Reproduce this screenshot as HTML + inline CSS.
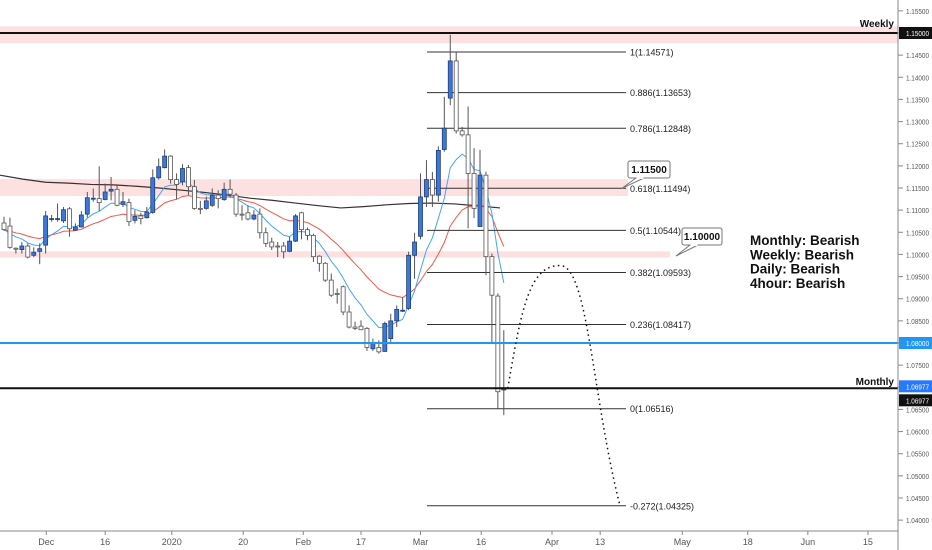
<!DOCTYPE html>
<html><head><meta charset="utf-8">
<style>
html,body{margin:0;padding:0;background:#fff;}
svg{display:block;font-family:"Liberation Sans",sans-serif;}
</style></head>
<body>
<svg id="chart" width="932" height="550" viewBox="0 0 932 550">
  <g id="bands"></g>
  <g id="ma"></g>
  <g id="fib"></g>
  <g id="candles"></g>
  <g id="levels"></g>
  <g id="anno"></g>
  <g id="xaxis"></g>
  <g id="yaxis"></g>
</svg>
<script>
// ---- data ----
const opens  = [1.1071,1.1064,1.1014,1.1011,1.1019,1.0998,1.1007,1.1021,1.1080,1.1080,1.1076,1.1103,1.1055,1.1062,1.1091,1.1126,1.1126,1.1124,1.1143,1.1147,1.1113,1.1117,1.1077,1.1087,1.1083,1.1095,1.1173,1.1196,1.1222,1.1169,1.1164,1.1196,1.1153,1.1104,1.1104,1.1111,1.1134,1.1124,1.1147,1.1134,1.1091,1.1094,1.1080,1.1091,1.1049,1.1028,1.1019,1.1019,1.1007,1.1030,1.1094,1.1056,1.1043,1.0996,1.0980,1.0942,1.0912,1.0927,1.0870,1.0836,1.0838,1.0833,1.0787,1.0790,1.0781,1.0810,1.0850,1.0873,1.0878,1.0998,1.1041,1.1130,1.1169,1.1134,1.1237,1.1353,1.1437,1.1279,1.1270,1.1183,1.1063,1.1179,1.0995,1.0906,1.0694];
const highs  = [1.1085,1.1083,1.1016,1.1028,1.1025,1.1016,1.1025,1.1098,1.1089,1.1115,1.1107,1.1107,1.1070,1.1098,1.1141,1.1149,1.1199,1.1160,1.1175,1.1156,1.1141,1.1126,1.1100,1.1094,1.1107,1.1192,1.1217,1.1237,1.1224,1.1183,1.1204,1.1202,1.1168,1.1121,1.1131,1.1149,1.1145,1.1162,1.1169,1.1139,1.1111,1.1111,1.1100,1.1104,1.1061,1.1038,1.1028,1.1028,1.1040,1.1091,1.1096,1.1061,1.1047,1.0998,1.0983,1.0957,1.0923,1.0930,1.0885,1.0848,1.0851,1.0836,1.0810,1.0806,1.0848,1.0866,1.0885,1.0904,1.1006,1.1049,1.1183,1.1213,1.1186,1.1244,1.1356,1.1496,1.1458,1.1288,1.1334,1.1240,1.1236,1.1187,1.1002,1.0912,1.0829];
const lows   = [1.1053,1.1013,1.1002,1.1002,1.0991,1.0994,1.0978,1.1002,1.1074,1.1074,1.1071,1.1040,1.1053,1.1061,1.1083,1.1119,1.1098,1.1122,1.1122,1.1109,1.1107,1.1064,1.1070,1.1068,1.1081,1.1092,1.1169,1.1194,1.1160,1.1124,1.1156,1.1134,1.1101,1.1091,1.1101,1.1107,1.1104,1.1121,1.1128,1.1085,1.1077,1.1077,1.1077,1.1036,1.1017,1.1010,1.0994,1.0991,1.1005,1.1028,1.1034,1.1032,1.0983,1.0961,1.0938,1.0904,1.0889,1.0863,1.0833,1.0829,1.0829,1.0782,1.0782,1.0776,1.0780,1.0802,1.0836,1.0870,1.0874,1.0945,1.1034,1.1107,1.1107,1.1119,1.1232,1.1337,1.1273,1.1266,1.1059,1.1082,1.1063,1.0953,1.0799,1.0652,1.0637];
const closes = [1.1056,1.1016,1.1013,1.1019,1.0994,1.1005,1.1013,1.1087,1.1081,1.1081,1.1101,1.1058,1.1062,1.1089,1.1128,1.1127,1.1117,1.1141,1.1147,1.1111,1.1119,1.1074,1.1086,1.1081,1.1096,1.1173,1.1198,1.1222,1.1169,1.1158,1.1194,1.1153,1.1104,1.1103,1.1121,1.1134,1.1126,1.1147,1.1136,1.1091,1.1090,1.1080,1.1089,1.1049,1.1025,1.1017,1.1018,1.1006,1.1030,1.1087,1.1056,1.1043,1.0995,1.0980,1.0942,1.0908,1.0911,1.0870,1.0836,1.0833,1.0830,1.0790,1.0799,1.0780,1.0844,1.0850,1.0876,1.0874,1.0998,1.1028,1.1130,1.1169,1.1134,1.1235,1.1285,1.1437,1.1279,1.1270,1.1183,1.1104,1.1179,1.0995,1.0908,1.0690,1.0699];
const ma200 = [1.1179,1.1170,1.1163,1.1161,1.1158,1.1157,1.1154,1.1150,1.1145,1.1140,1.1134,1.1127,1.1122,1.1116,1.1110,1.1105,1.1108,1.1112,1.1115,1.1116,1.1114,1.1110,1.1105];
const fibRatios = ["1","0.886","0.786","0.618","0.5","0.382","0.236","0","-0.272"];
const fibPrices = [1.14571,1.13653,1.12848,1.11494,1.10544,1.09593,1.08417,1.06516,1.04325];
const yTicks = [1.155,1.15,1.145,1.14,1.135,1.13,1.125,1.12,1.115,1.11,1.105,1.10,1.095,1.09,1.085,1.08,1.075,1.07,1.065,1.06,1.055,1.05,1.045,1.04];
const xLabels = ["Dec","16","2020","20","Feb","17","Mar","16","Apr","13","May","18","Jun","15"];
const xLabelCandle = [7.1,17.0,28.2,40.2,50.3,60.0,70.0,80.2,92.1,100.2,114.0,125.0,135.1,145.2];
const projPrices = [1.06977,1.0975,1.04325];

// ---- scales ----
const NS="http://www.w3.org/2000/svg";
const y = p => 33 + (1.15 - p) * 4428.6;
const x = i => 4 + i * 5.95;
function mk(tag, attrs, parent){const e=document.createElementNS(NS,tag);for(const k in attrs)e.setAttribute(k,attrs[k]);parent.appendChild(e);return e;}
const g = id => document.getElementById(id);

// zones
let z;
z=mk('rect',{x:0,y:y(1.1515),width:898,height:y(1.1477)-y(1.1515),fill:'#fde0e0'},g('bands'));


z=mk('rect',{x:0,y:y(1.1170),width:628,height:y(1.1132)-y(1.1170),fill:'#fde0e0'},g('bands'));


z=mk('rect',{x:0,y:y(1.1007),width:670,height:y(1.0993)-y(1.1007),fill:'#fde0e0'},g('bands'));



// 200 MA
let pts=ma200.map((v,k)=>[k*(500/(ma200.length-1)),y(v)]);
let l=mk('polyline',{points:pts.map(p=>p.join(',')).join(' '),fill:'none',stroke:'#3b2f2f',"stroke-width":1.2},g('ma'));


// EMAs
function ema(n){const k=2/(n+1);let out=[],e=closes[0];closes.forEach(c=>{e=c*k+e*(1-k);out.push(e);});return out;}
const e8=ema(8), e21=ema(21);
l=mk('polyline',{points:e21.map((v,i)=>x(i)+','+y(v)).join(' '),fill:'none',stroke:'#f0584c',"stroke-width":1},g('ma'));


l=mk('polyline',{points:e8.map((v,i)=>x(i)+','+y(v)).join(' '),fill:'none',stroke:'#42a5f5',"stroke-width":1},g('ma'));



// fib
fibPrices.forEach((p,i)=>{
  const ln=mk('line',{x1:427,x2:626,y1:y(p),y2:y(p),stroke:'#333',"stroke-width":1},g('fib'));
  
  
  const t=mk('text',{x:630,y:y(p)+3.5,"font-size":9,fill:'#222'},g('fib'));
  t.textContent=fibRatios[i]+'('+p.toFixed(5)+')';
  
  
});

// candles
opens.forEach((o,i)=>{
  const c=closes[i],h=highs[i],lo=lows[i],cx=x(i),bull=c>=o;
  const w=mk('line',{x1:cx,x2:cx,y1:y(h),y2:y(lo),stroke:'#555',"stroke-width":1},g('candles'));
  
  
  const top=y(Math.max(o,c)),bh=Math.max(1,y(Math.min(o,c))-top);
  const b=mk('rect',{x:cx-2,y:top,width:4,height:bh,fill:bull?'#3c78d8':'#fff',stroke:bull?'#1f3f7a':'#555',"stroke-width":0.8},g('candles'));
  
  
});

// key levels
function hline(p,col,w,name){const e=mk('line',{x1:0,x2:898,y1:y(p),y2:y(p),stroke:col,"stroke-width":w},g('levels'));}
hline(1.15,'#111',2,'weekly-level-line');
hline(1.08,'#2196f3',2,'level-1-08-line');
hline(1.06977,'#111',2,'monthly-level-line');
function lbl(txt,xx,yy,name){const t=mk('text',{x:xx,y:yy,"font-size":10,"font-weight":"bold",fill:'#111',"text-anchor":"end"},g('levels'));t.textContent=txt;}
lbl('Weekly',894,27,'weekly-label');
lbl('Monthly',894,385,'monthly-label');

// projection dotted path
const x0=x(opens.length-1)+4;
const pk=560, pEnd=620, yPk=y(projPrices[1]);
const pp=mk('path',{d:`M${x0},${y(projPrices[0])} C${x0+14},${yPk+40} ${pk-30},${yPk} ${pk},${yPk} C${pk+28},${yPk} ${pEnd-28},${y(projPrices[2])-110} ${pEnd},${y(projPrices[2])}`,fill:'none',stroke:'#111',"stroke-width":1.5,"stroke-dasharray":"1.5,3.5"},g('anno'));



// callouts
function callout(bx,by,bw,txt,tx,ty,name){
  const grp=mk('g',{},g('anno'));
  
  
  mk('polygon',{points:`${bx+8},${by+17} ${bx+16},${by+17} ${tx},${ty}`,fill:'#fff',stroke:'#777',"stroke-width":1},grp);
  mk('rect',{x:bx,y:by,width:bw,height:17,rx:2,fill:'#fff',stroke:'#777',"stroke-width":1},grp);
  mk('rect',{x:bx+8.5,y:by+15,width:7,height:3,fill:'#fff'},grp);
  const t=mk('text',{x:bx+bw/2,y:by+12,"font-size":10,"font-weight":"bold","text-anchor":"middle",fill:'#111'},grp);
  t.textContent=txt;
}
callout(628,161,42,'1.11500',622,y(1.11494),'callout-1-115');
callout(682,228,40,'1.10000',676,256,'callout-1-100');

// bias text
const bias=["Monthly: Bearish","Weekly: Bearish","Daily: Bearish","4hour: Bearish"];
bias.forEach((s,i)=>{const t=mk('text',{x:750,y:245+i*14.3,"font-size":13.5,"font-weight":"bold",fill:'#111'},g('anno'));t.textContent=s;});

// x axis
let ax=mk('line',{x1:0,x2:898,y1:531,y2:531,stroke:'#888',"stroke-width":1},g('xaxis'));


xLabels.forEach((s,i)=>{
  const xx=x(xLabelCandle[i]);
  mk('line',{x1:xx,x2:xx,y1:531,y2:535,stroke:'#888'},g('xaxis'));
  const t=mk('text',{x:xx,y:545,"font-size":9,fill:'#555',"text-anchor":"middle"},g('xaxis'));
  t.textContent=s;
  
  
});

// y axis
ax=mk('line',{x1:898,x2:898,y1:0,y2:550,stroke:'#888',"stroke-width":1},g('yaxis'));


yTicks.forEach(p=>{
  mk('line',{x1:898,x2:903,y1:y(p),y2:y(p),stroke:'#888'},g('yaxis'));
  const t=mk('text',{x:906,y:y(p)+3,"font-size":7.5,fill:'#555',textLength:23,lengthAdjust:'spacingAndGlyphs'},g('yaxis'));
  t.textContent=p.toFixed(5);
  
  
});
function tag(p,yy,bg,name){
  const r=mk('rect',{x:899,y:yy-6,width:33,height:12,fill:bg},g('yaxis'));
  
  
  const t=mk('text',{x:906,y:yy+3,"font-size":7.5,fill:'#fff',textLength:23,lengthAdjust:'spacingAndGlyphs'},g('yaxis'));
  t.textContent=p.toFixed(5);
}
tag(1.15,y(1.15),'#111','weekly-price-tag');
tag(1.08,y(1.08),'#2196f3','level-price-tag');
tag(1.06977,y(1.06977)-2,'#2979ff','last-price-tag');
tag(1.06977,y(1.06977)+12,'#111','monthly-price-tag');
</script>
</body></html>
